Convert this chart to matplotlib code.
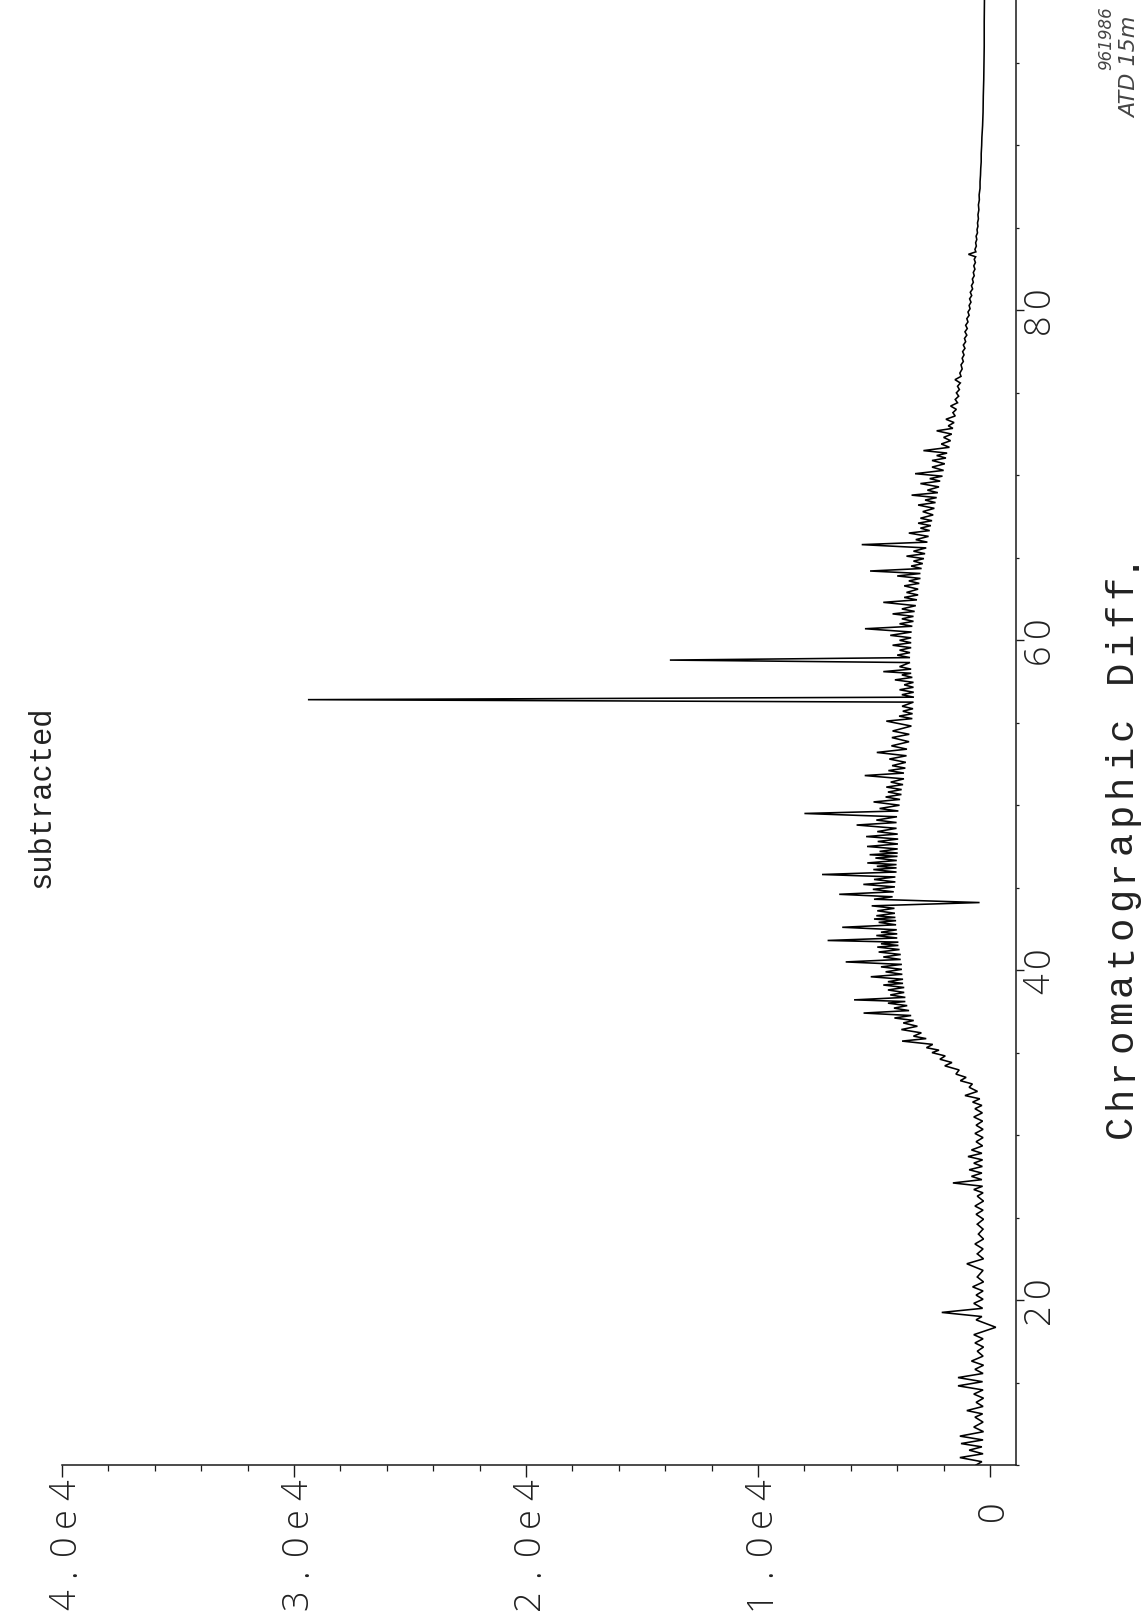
import numpy as np
import matplotlib
matplotlib.use("Agg")
import matplotlib.pyplot as plt
from matplotlib.transforms import IdentityTransform
from matplotlib.ticker import MultipleLocator

# ---------------- data ----------------
# retention time (min) and abundance of the spike apexes
peak_rt = [10.45, 10.9, 11.3, 11.75, 12.3, 12.9, 13.3, 13.8, 14.3, 14.8, 15.3, 15.8,
           16.3, 16.9, 17.4, 17.9, 18.8, 19.25, 19.8, 20.3, 20.8, 21.4, 22.2, 22.8,
           23.4, 24.0, 24.6, 25.2, 25.7, 26.3, 26.7, 27.1, 27.5, 27.9, 28.3, 28.7,
           29.1, 29.6, 30.1, 30.6, 31.1, 31.6,
           32.0, 32.4, 32.9, 33.3, 33.7, 34.2, 34.6, 35.0, 35.3, 35.7, 36.0, 36.4,
           36.8, 37.1, 37.4, 37.7, 38.0, 38.2, 38.5, 38.8, 39.1, 39.3, 39.6, 39.9,
           40.2, 40.5, 40.8, 41.1, 41.4, 41.6, 41.8, 42.1, 42.3, 42.6, 42.9, 43.1,
           43.3, 43.6, 43.9, 44.3, 44.6, 44.9, 45.2, 45.5, 45.8, 46.1, 46.3, 46.5,
           46.8, 47.0, 47.2, 47.5, 47.8, 48.1, 48.4, 48.8, 49.1, 49.5, 49.8, 50.2,
           50.5, 50.8, 51.1, 51.4, 51.8, 52.1, 52.4, 52.8, 53.2, 53.6,
           54.1, 54.5, 55.1, 55.4, 55.7, 56.0, 56.4, 56.7, 57.0, 57.3, 57.6, 57.9,
           58.1, 58.4, 58.8, 59.1, 59.4, 59.7, 60.0, 60.3, 60.7, 61.0, 61.3, 61.6,
           61.9, 62.3, 62.6, 62.9, 63.3, 63.6, 63.9, 64.2, 64.5, 64.8, 65.1, 65.4,
           65.8, 66.1, 66.5, 66.8, 67.1, 67.4, 67.8, 68.2, 68.5, 68.8, 69.1, 69.5,
           69.8, 70.1, 70.5, 70.9, 71.2, 71.5, 71.9, 72.3, 72.7, 73.0, 73.4, 73.8,
           74.2, 74.6, 75.0, 75.4, 75.8, 76.2,
           76.7, 77.1, 77.5, 77.9, 78.3, 78.7, 79.1, 79.5, 79.9, 80.3, 80.7, 81.1,
           81.5, 81.9, 82.3, 82.7, 83.1, 83.4, 83.7, 84.1, 84.5, 84.9, 85.3, 85.8,
           86.4, 87.0, 87.8, 88.6, 89.5, 90.5, 92.0, 94.0, 96.0, 98.8]
peak_ab = [1300, 900, 1250, 1300, 700, 650, 1000, 600, 700, 1380, 1380, 650,
           800, 550, 650, 700, 600, 2080, 700, 600, 750, 550, 1000, 550,
           650, 500, 550, 600, 650, 550, 700, 1600, 800, 900, 700, 950,
           800, 600, 650, 600, 700, 650,
           750, 1080, 900, 1280, 1470, 1950, 2160, 2500, 2740, 3790, 3300, 3820,
           3740, 4120, 5450, 4140, 4400, 5860, 4300, 4400, 4600, 4400, 5140, 4500,
           4700, 6220, 4600, 4800, 4860, 4700, 7000, 4900, 4700, 6370, 4800, 5000,
           4900, 4860, 5100, 5000, 6500, 5050, 5460, 5000, 7240, 5030, 4880, 5290,
           4940, 5190, 4760, 5300, 4840, 5340, 4860, 5750, 4900, 8000, 4760, 5020,
           4500, 4400, 4470, 4280, 5400, 4380, 4220, 4340, 4880, 4250,
           4230, 4200, 4470, 3920, 3760, 3790, 29400, 3800, 3900, 3700, 4100, 3800,
           4600, 3900, 13800, 4000, 3900, 4200, 3900, 4300, 5390, 3900, 3800, 4200,
           3800, 4600, 3700, 3600, 3700, 3500, 4000, 5170, 3400, 3300, 3600, 3300,
           5530, 3200, 3500, 3000, 3100, 3000, 2900, 3100, 2800, 3380, 2700, 3000,
           2600, 3230, 2500, 2500, 2300, 2870, 2100, 2000, 2300, 1800, 1900, 1600,
           1700, 1500, 1450, 1400, 1510, 1300,
           1250, 1200, 1180, 1150, 1100, 1080, 1050, 1000, 950, 900, 880, 850,
           800, 760, 720, 700, 680, 930, 650, 620, 600, 560, 540, 520,
           500, 470, 430, 400, 380, 350, 300, 270, 250, 240]

# retention time (min) and abundance of the trace between the spikes
valley_rt = [10.0, 10.2, 10.68, 11.1, 11.52, 12.02, 12.6, 13.1, 13.55, 14.05, 14.55,
             15.05, 15.55, 16.05, 16.6, 17.15, 17.65, 18.35, 19.0, 19.5, 20.05, 20.55,
             21.1, 21.8, 22.5, 23.1, 23.7, 24.3, 24.9, 25.45, 26.0, 26.5, 26.9, 27.3,
             27.7, 28.1, 28.5, 28.9, 29.35, 29.85, 30.35, 30.85, 31.35, 31.8,
             32.2, 32.65, 33.1, 33.5, 33.95, 34.4, 34.8, 35.15, 35.5, 35.85, 36.2, 36.6,
             36.95, 37.25, 37.55, 37.85, 38.1, 38.35, 38.65, 38.95, 39.2, 39.45, 39.75,
             40.05, 40.35, 40.65, 40.95, 41.25, 41.5, 41.7, 41.95, 42.2, 42.45, 42.75,
             43.0, 43.2, 43.45, 43.75, 44.1, 44.45, 44.75, 45.05, 45.35, 45.65, 45.95,
             46.2, 46.4, 46.65, 46.9, 47.1, 47.35, 47.65, 47.95, 48.25, 48.6, 48.95,
             49.3, 49.65, 50.0, 50.35, 50.65, 50.95, 51.25, 51.6, 51.95, 52.25, 52.6,
             53.0, 53.4, 53.85,
             54.3, 54.8, 55.25, 55.55, 55.85, 56.25, 56.55, 56.85, 57.15, 57.45, 57.75,
             58.0, 58.25, 58.65, 58.95, 59.25, 59.55, 59.85, 60.15, 60.5, 60.85, 61.15,
             61.45, 61.75, 62.1, 62.45, 62.75, 63.1, 63.45, 63.75, 64.05, 64.35, 64.65,
             64.95, 65.25, 65.6, 65.95, 66.3, 66.65, 66.95, 67.25, 67.6, 68.0, 68.35,
             68.65, 68.95, 69.3, 69.65, 69.95, 70.3, 70.7, 71.05, 71.35, 71.7, 72.1,
             72.5, 72.85, 73.2, 73.6, 74.0, 74.4, 74.8, 75.2, 75.6, 76.0, 76.45,
             76.9, 77.3, 77.7, 78.1, 78.5, 78.9, 79.3, 79.7, 80.1, 80.5, 80.9, 81.3,
             81.7, 82.1, 82.5, 82.9, 83.25, 83.55, 83.9, 84.3, 84.7, 85.1, 85.55, 86.1,
             86.7, 87.4, 88.2, 89.0, 90.0, 91.2, 93.0, 95.0, 97.5]
valley_ab = [600, 350, 300, 350, 300, 280, 300, 320, 300, 280, 300,
             320, 300, 280, 300, 280, 300, -250, 350, 320, 300, 300,
             280, 300, 280, 300, 280, 300, 280, 300, 280, 300, 320, 350,
             350, 330, 320, 350, 320, 300, 300, 320, 330, 350,
             440, 540, 760, 1030, 1330, 1640, 1930, 2200, 2470, 2750, 2960, 3130,
             3290, 3400, 3490, 3570, 3650, 3650, 3700, 3700, 3750, 3750, 3780,
             3800, 3800, 3850, 3850, 3900, 3950, 3950, 4000, 4000, 4020, 4050,
             4050, 4080, 4100, 4120, 450, 4200, 4150, 4100, 4080, 4080, 4030,
             4030, 4030, 4020, 3990, 3980, 3980, 3970, 3960, 3980, 4030, 4030,
             4010, 3950, 3900, 3880, 3820, 3810, 3750, 3710, 3710, 3650, 3630,
             3600, 3580, 3490,
             3480, 3390, 3350, 3340, 3320, 3300, 3280, 3290, 3300, 3300, 3350,
             3400, 3400, 3450, 3450, 3450, 3400, 3400, 3400, 3380, 3350, 3300,
             3300, 3250, 3200, 3150, 3100, 3100, 3050, 3000, 3000, 2950, 2900,
             2850, 2800, 2750, 2700, 2650, 2600, 2550, 2500, 2450, 2400, 2350,
             2300, 2250, 2200, 2150, 2050, 2000, 1950, 1900, 1850, 1750, 1700,
             1650, 1600, 1550, 1500, 1450, 1400, 1350, 1320, 1280, 1250, 1200,
             1150, 1120, 1080, 1050, 1000, 980, 950, 900, 860, 820, 790, 750,
             720, 680, 650, 630, 620, 610, 590, 570, 540, 520, 500, 480,
             460, 430, 410, 380, 360, 320, 290, 260, 250]

int_ticks = [40000, 30000, 20000, 10000, 0]
int_labels = ["4.0e4", "3.0e4", "2.0e4", "1.0e4", "0"]
rt_ticks = [20, 40, 60, 80]
rt_labels = ["20", "40", "60", "80"]
title_text = "subtracted"
axis_label = "Chromatographic Diff."
notes = ["961986", "ATD 15m"]

# ---------------- figure ----------------
W, H, DPI = 1142, 1623, 100
fig = plt.figure(figsize=(W / DPI, H / DPI), dpi=DPI, facecolor="white")
ID = IdentityTransform()


def fx(px):
    return px / W


def fy(py):
    return 1 - py / H


ax = fig.add_axes([fx(62), fy(1465), fx(1016) - fx(62), fy(-3) - fy(1465)])
ax.set_xlim(40000, -1120)
ax.set_ylim(10.0, 99.0)
ax.patch.set_alpha(0)

rt = np.array(peak_rt + valley_rt)
ab = np.array(peak_ab + valley_ab)
order = np.argsort(rt, kind="stable")
ax.plot(ab[order], rt[order], color="black", lw=1.15, solid_joinstyle="miter")

for s in ["top", "left"]:
    ax.spines[s].set_visible(False)
for s in ["bottom", "right"]:
    ax.spines[s].set_linewidth(1.1)
    ax.spines[s].set_color("#1a1a1a")

ax.xaxis.set_major_locator(MultipleLocator(10000))
ax.xaxis.set_minor_locator(MultipleLocator(2000))
ax.yaxis.set_major_locator(MultipleLocator(20))
ax.yaxis.set_minor_locator(MultipleLocator(5))
ax.yaxis.tick_right()
ax.tick_params(axis="x", which="major", direction="out", length=8.5, width=1.0,
               labelbottom=False, color="#1a1a1a")
ax.tick_params(axis="x", which="minor", direction="out", length=4.5, width=0.9,
               color="#1a1a1a")
ax.tick_params(axis="y", which="major", direction="out", length=5.8, width=1.0,
               labelright=False, labelleft=False, color="#1a1a1a")
ax.tick_params(axis="y", which="minor", direction="out", length=2.5, width=0.9,
               color="#1a1a1a")

mono = "Liberation Mono"
TICK_PT = 26
tick_font = dict(family=["Open Sans", "DejaVu Sans"], fontweight="light",
                 fontsize=TICK_PT, color="#222222")
CAP = 0.714 * TICK_PT * DPI / 72   # digit height in pixels
PITCH = 27.5                       # plotter letter pitch in pixels


def plot_chars(s, x_base_px, top_px, pitch, **font):
    """Write s rotated 90 deg (reading upwards), one fixed cell per character.
    x_base_px: baseline x in image pixels; top_px: top of the first cell from the top."""
    n = len(s)
    for i, ch in enumerate(s):
        if ch == " ":
            continue
        yc = top_px + (n - i - 0.5) * pitch
        fig.text(x_base_px, H - yc, ch, transform=ID, rotation=90,
                 rotation_mode="anchor", ha="center", va="baseline", **font)


# intensity tick labels (rotated, below the axis)
for v, lab in zip(int_ticks, int_labels):
    xt = ax.transData.transform((v, 10.0))[0]
    top = 1476 if lab != "0" else 1497
    plot_chars(lab, xt + CAP / 2, top, PITCH, **tick_font)

# retention-time tick labels (rotated, right of the axis)
for v, lab in zip(rt_ticks, rt_labels):
    yc_px = H - ax.transData.transform((0, v))[1]
    plot_chars(lab, 1036 + CAP / 2, yc_px - len(lab) * PITCH / 2, PITCH, **tick_font)

# title and axis label
fig.text(fx(50), fy(797), title_text, rotation=90, rotation_mode="anchor",
         ha="center", va="baseline", family=mono, fontsize=22, color="#222222")
lab_pitch = 28.4
plot_chars(axis_label, 1131, 842 - len(axis_label) * lab_pitch / 2, lab_pitch,
           family=mono, fontsize=28, color="#222222")

# handwritten notes at the top right
fig.text(fx(1106), fy(70), notes[0], rotation=90, rotation_mode="anchor",
         ha="left", va="center", family="DejaVu Sans", style="italic",
         fontsize=12, color="#444444")
fig.text(fx(1130), fy(118), notes[1], rotation=90, rotation_mode="anchor",
         ha="left", va="center", family="DejaVu Sans", style="italic",
         fontsize=16, color="#444444")

fig.savefig("out.png", dpi=DPI, facecolor="white")
